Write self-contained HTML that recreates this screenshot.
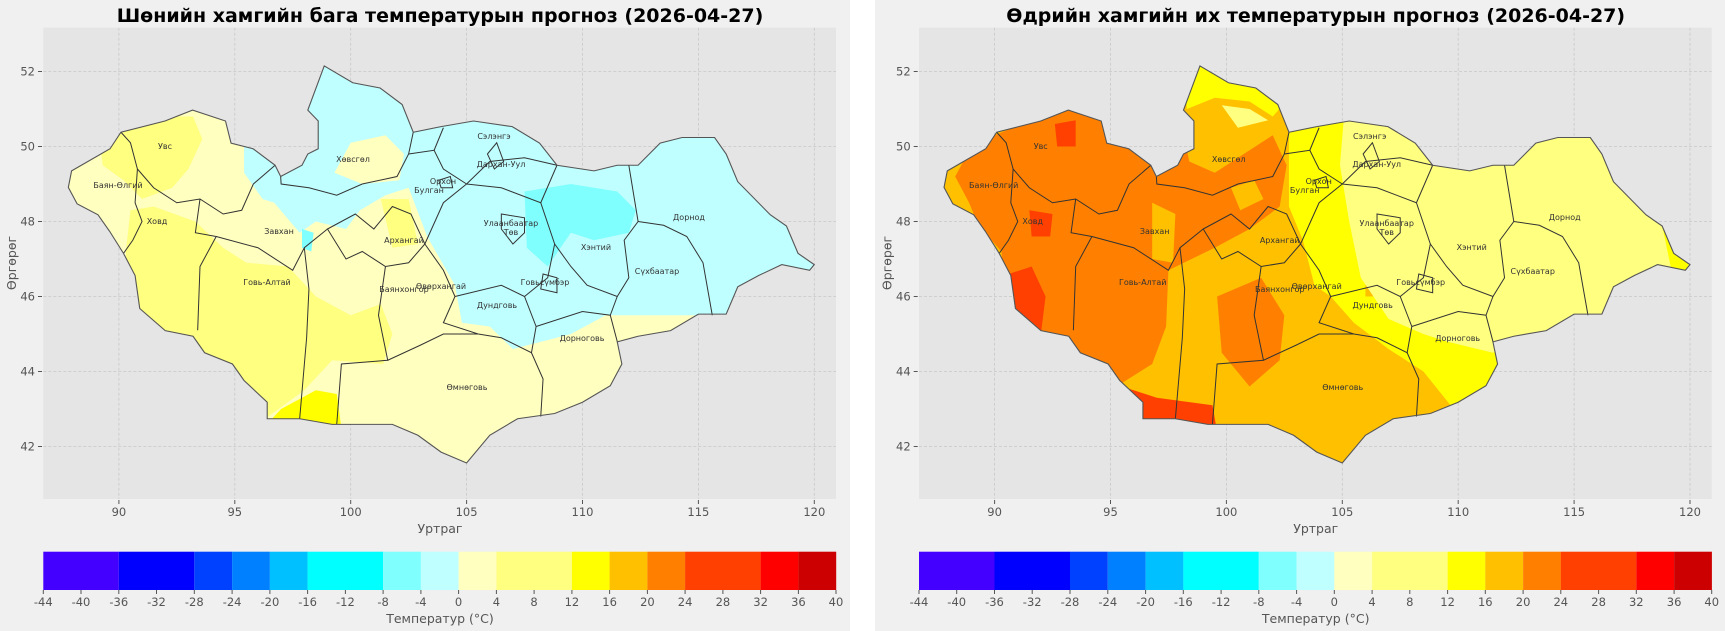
<!DOCTYPE html>
<html><head><meta charset="utf-8"><style>
html,body{margin:0;padding:0;background:#fff;}
svg{display:block;}
text{font-family:"DejaVu Sans","Liberation Sans",sans-serif;}
.tl{font-size:11.5px;fill:#555;}
.pl{font-size:8px;fill:#333;text-anchor:middle;}
.ttl{font-size:19px;font-weight:bold;fill:#000;text-anchor:middle;}
.al{font-size:12.5px;fill:#555;text-anchor:middle;}
.g{stroke:#c8c8c8;stroke-width:0.8;stroke-dasharray:3,2;}
.b{fill:none;stroke:#333;stroke-width:1;vector-effect:non-scaling-stroke;}
</style></head><body>
<svg width="1725" height="631" viewBox="0 0 1725 631" xmlns="http://www.w3.org/2000/svg">
<defs>
<polygon id="mn" vector-effect="non-scaling-stroke" points="87.82,48.91 87.96,49.35 89.62,49.94 90.09,50.38 91.99,50.68 93.18,50.97 94.6,50.68 94.84,50.09 95.79,49.94 96.74,49.5 96.98,49.2 97.9,49.5 98.15,49.8 98.6,49.94 98.6,50.68 98.15,50.97 98.86,52.15 100.09,51.7 101.27,51.56 102.22,51.12 102.7,50.38 103.9,50.53 105.3,50.68 106.97,50.53 108.15,50.09 108.9,49.5 110.5,49.35 111.5,49.5 112.4,49.5 113.35,50.09 114.3,50.24 115.7,50.24 116.2,49.8 116.7,49.06 118.1,48.18 118.8,47.88 119.3,47.15 120.0,46.85 119.8,46.7 118.6,46.85 117.6,46.56 116.7,46.26 116.2,45.53 115.0,45.53 113.8,45.09 112.4,44.94 111.5,44.79 111.7,44.2 111.2,43.62 110.0,43.18 108.8,42.88 107.2,42.74 106.0,42.3 105.0,41.56 103.9,41.85 102.9,42.3 101.8,42.59 99.2,42.59 97.8,42.74 96.4,42.74 96.4,43.18 95.4,43.76 94.9,44.2 93.7,44.5 93.2,44.94 92.0,45.09 90.9,45.68 90.7,46.56 90.2,47.15 89.6,47.74 89.1,48.18 88.2,48.47"/>
<clipPath id="cp" clipPathUnits="userSpaceOnUse"><use href="#mn"/></clipPath>
<g id="borders">
<polyline class="b" points="90.09,50.38 90.5,50.1 90.8,49.4 90.7,48.5 91.0,48.0 90.6,47.5 90.2,47.15"/>
<polyline class="b" points="90.8,49.4 91.5,48.9 92.5,48.5 93.5,48.6 94.5,48.2 95.3,48.3 95.8,49.0 96.74,49.5"/>
<polyline class="b" points="93.5,48.6 93.3,47.7 94.2,47.6 93.5,46.8 93.4,45.1"/>
<polyline class="b" points="94.2,47.6 96,47.3 97.5,46.7 98.0,47.3 99,47.8"/>
<polyline class="b" points="96.98,49.2 97,49.0 98.2,48.9 99.4,48.7 100.5,49.0 102,49.2 102.5,49.8 102.7,50.38"/>
<polygon class="b" points="99,47.8 100.2,48.2 101,47.8 101.8,48.4 102.6,48.2 103.2,47.4 102.5,46.9 101.5,46.8 100.5,47.2 99.8,47.0"/>
<polyline class="b" points="98.0,47.3 98.2,46.2 98.1,44.9 97.8,42.74"/>
<polyline class="b" points="101.5,46.8 101.2,45.5 101.6,44.3 99.6,44.2 99.4,42.6"/>
<polyline class="b" points="101.6,44.3 103,44.7 104,45 105.5,45.0"/>
<polyline class="b" points="103.2,47.4 104,46.7 104.5,46.0 104,45.3 105.5,45.0"/>
<polyline class="b" points="104.5,46.0 106.5,46.3 107.5,46.0 108.0,45.2 107.8,44.5 106.5,44.9 105.5,45.0"/>
<polyline class="b" points="107.8,44.5 108.3,43.8 108.2,42.8"/>
<polyline class="b" points="108,45.2 110,45.6 111.2,45.5 111.5,44.8"/>
<polyline class="b" points="103.2,47.4 104,48.5 105,49.0 106.5,48.9 108.2,48.5 108.8,47.4 108.5,46.5 107.5,46.0"/>
<polyline class="b" points="108.2,48.5 108.9,49.5"/>
<polyline class="b" points="108.8,47.4 109.5,46.8 110.2,46.3 111.5,46.0 112.0,46.5 111.8,47.5 112.4,48.0 112.0,49.5"/>
<polyline class="b" points="112.4,48.0 113.5,47.9 114.5,47.6 115.2,46.9 115.6,45.5"/>
<polyline class="b" points="111.5,46.0 111.2,45.5"/>
<polyline class="b" points="102.5,49.8 103.6,49.9 104,49.4 105,49.0"/>
<polyline class="b" points="103.6,49.9 104,50.5"/>
<polyline class="b" points="105,49.0 106,49.6 107.5,49.7 108.9,49.5"/>
<polygon class="b" points="103.8,49.1 104.3,49.2 104.4,48.9 103.9,48.9"/>
<polygon class="b" points="105.9,49.8 106.3,50.1 106.6,49.6 106.2,49.4"/>
<polygon class="b" points="106.5,48.2 107.5,48.1 107.5,47.7 107,47.4 106.5,47.8"/>
<polygon class="b" points="108.3,46.6 108.9,46.5 108.9,46.1 108.2,46.2"/>
<use href="#mn" fill="none" stroke="#555" stroke-width="1.1"/>
</g>
<g id="frame">
<rect x="43.3" y="27.7" width="792.7" height="471.3" fill="#e5e5e5"/>
<g class="g">
<line x1="118.9" y1="27.7" x2="118.9" y2="499"/><line x1="234.8" y1="27.7" x2="234.8" y2="499"/><line x1="350.7" y1="27.7" x2="350.7" y2="499"/><line x1="466.6" y1="27.7" x2="466.6" y2="499"/><line x1="582.5" y1="27.7" x2="582.5" y2="499"/><line x1="698.4" y1="27.7" x2="698.4" y2="499"/><line x1="814.3" y1="27.7" x2="814.3" y2="499"/>
<line x1="43.3" y1="446.5" x2="836" y2="446.5"/><line x1="43.3" y1="371.5" x2="836" y2="371.5"/><line x1="43.3" y1="296.5" x2="836" y2="296.5"/><line x1="43.3" y1="221.5" x2="836" y2="221.5"/><line x1="43.3" y1="146.5" x2="836" y2="146.5"/><line x1="43.3" y1="71.5" x2="836" y2="71.5"/>
</g>
</g>
<g id="axes">
<g stroke="#555" stroke-width="1">
<line x1="38" y1="446.5" x2="42" y2="446.5"/><line x1="38" y1="371.5" x2="42" y2="371.5"/><line x1="38" y1="296.5" x2="42" y2="296.5"/><line x1="38" y1="221.5" x2="42" y2="221.5"/><line x1="38" y1="146.5" x2="42" y2="146.5"/><line x1="38" y1="71.5" x2="42" y2="71.5"/>
<line x1="118.9" y1="500" x2="118.9" y2="504"/><line x1="234.8" y1="500" x2="234.8" y2="504"/><line x1="350.7" y1="500" x2="350.7" y2="504"/><line x1="466.6" y1="500" x2="466.6" y2="504"/><line x1="582.5" y1="500" x2="582.5" y2="504"/><line x1="698.4" y1="500" x2="698.4" y2="504"/><line x1="814.3" y1="500" x2="814.3" y2="504"/>
</g>
<g class="tl" text-anchor="end">
<text x="35" y="450.5">42</text><text x="35" y="375.5">44</text><text x="35" y="300.5">46</text><text x="35" y="225.5">48</text><text x="35" y="150.5">50</text><text x="35" y="75.5">52</text>
</g>
<g class="tl" text-anchor="middle">
<text x="118.9" y="516">90</text><text x="234.8" y="516">95</text><text x="350.7" y="516">100</text><text x="466.6" y="516">105</text><text x="582.5" y="516">110</text><text x="698.4" y="516">115</text><text x="814.3" y="516">120</text>
</g>
<text class="al" x="440" y="533">Уртраг</text>
<text class="al" transform="translate(16,263) rotate(-90)">Өргөрөг</text>
<g>
<rect x="43.3" y="551.7" width="75.5" height="38.3" fill="#4400ff"/>
<rect x="118.8" y="551.7" width="75.5" height="38.3" fill="#0000ff"/>
<rect x="194.3" y="551.7" width="37.8" height="38.3" fill="#0040ff"/>
<rect x="232.1" y="551.7" width="37.8" height="38.3" fill="#0080ff"/>
<rect x="269.9" y="551.7" width="37.8" height="38.3" fill="#00c0ff"/>
<rect x="307.6" y="551.7" width="75.5" height="38.3" fill="#00ffff"/>
<rect x="383.1" y="551.7" width="37.8" height="38.3" fill="#80ffff"/>
<rect x="420.9" y="551.7" width="37.8" height="38.3" fill="#c0ffff"/>
<rect x="458.6" y="551.7" width="37.8" height="38.3" fill="#ffffc0"/>
<rect x="496.4" y="551.7" width="75.5" height="38.3" fill="#ffff80"/>
<rect x="571.9" y="551.7" width="37.8" height="38.3" fill="#ffff00"/>
<rect x="609.6" y="551.7" width="37.8" height="38.3" fill="#ffc000"/>
<rect x="647.4" y="551.7" width="37.8" height="38.3" fill="#ff8000"/>
<rect x="685.1" y="551.7" width="75.5" height="38.3" fill="#ff4000"/>
<rect x="760.6" y="551.7" width="37.8" height="38.3" fill="#ff0000"/>
<rect x="798.4" y="551.7" width="37.8" height="38.3" fill="#cc0000"/>
</g>
<g stroke="#555"><line x1="43.3" y1="590" x2="43.3" y2="594"/><line x1="81" y1="590" x2="81" y2="594"/><line x1="118.8" y1="590" x2="118.8" y2="594"/><line x1="156.5" y1="590" x2="156.5" y2="594"/><line x1="194.3" y1="590" x2="194.3" y2="594"/><line x1="232.1" y1="590" x2="232.1" y2="594"/><line x1="269.9" y1="590" x2="269.9" y2="594"/><line x1="307.6" y1="590" x2="307.6" y2="594"/><line x1="345.4" y1="590" x2="345.4" y2="594"/><line x1="383.1" y1="590" x2="383.1" y2="594"/><line x1="420.9" y1="590" x2="420.9" y2="594"/><line x1="458.6" y1="590" x2="458.6" y2="594"/><line x1="496.4" y1="590" x2="496.4" y2="594"/><line x1="534.1" y1="590" x2="534.1" y2="594"/><line x1="571.9" y1="590" x2="571.9" y2="594"/><line x1="609.6" y1="590" x2="609.6" y2="594"/><line x1="647.4" y1="590" x2="647.4" y2="594"/><line x1="685.1" y1="590" x2="685.1" y2="594"/><line x1="722.9" y1="590" x2="722.9" y2="594"/><line x1="760.6" y1="590" x2="760.6" y2="594"/><line x1="798.4" y1="590" x2="798.4" y2="594"/><line x1="836" y1="590" x2="836" y2="594"/></g>
<g class="tl" text-anchor="middle">
<text x="43.3" y="606">-44</text><text x="81" y="606">-40</text><text x="118.8" y="606">-36</text><text x="156.5" y="606">-32</text><text x="194.3" y="606">-28</text><text x="232.1" y="606">-24</text><text x="269.9" y="606">-20</text><text x="307.6" y="606">-16</text><text x="345.4" y="606">-12</text><text x="383.1" y="606">-8</text><text x="420.9" y="606">-4</text><text x="458.6" y="606">0</text><text x="496.4" y="606">4</text><text x="534.1" y="606">8</text><text x="571.9" y="606">12</text><text x="609.6" y="606">16</text><text x="647.4" y="606">20</text><text x="685.1" y="606">24</text><text x="722.9" y="606">28</text><text x="760.6" y="606">32</text><text x="798.4" y="606">36</text><text x="836" y="606">40</text>
</g>
<text class="al" x="440" y="623">Температур (°C)</text>
</g>
<g id="labels" class="pl">
<text x="165" y="149">Увс</text><text x="118" y="188">Баян-Өлгий</text><text x="157" y="224">Ховд</text><text x="279" y="234">Завхан</text><text x="353" y="162">Хөвсгөл</text><text x="404" y="243">Архангай</text><text x="404" y="292">Баянхонгор</text><text x="441" y="289">Өвөрхангай</text><text x="267" y="285">Говь-Алтай</text><text x="494" y="139">Сэлэнгэ</text><text x="501" y="167">Дархан-Уул</text><text x="443" y="184">Орхон</text><text x="429" y="193">Булган</text><text x="511" y="226">Улаанбаатар</text><text x="511" y="235">Төв</text><text x="596" y="250">Хэнтий</text><text x="689" y="220">Дорнод</text><text x="657" y="274">Сүхбаатар</text><text x="545" y="285">Говьсүмбэр</text><text x="497" y="308">Дундговь</text><text x="582" y="341">Дорноговь</text><text x="467" y="390">Өмнөговь</text>
</g>
</defs>

<rect x="0" y="0" width="850" height="631" fill="#f0f0f0"/>
<rect x="875" y="0" width="850" height="631" fill="#f0f0f0"/>

<g>
<use href="#frame"/>
<g transform="translate(43.3,499) scale(23.18,-37.5) translate(-86.74,-40.6)">
<g clip-path="url(#cp)">
<rect x="86" y="40" width="36" height="14" fill="#ffffc0"/>
<polygon fill="#ffff80" points="89.5,50.3 91.5,50.8 93.2,50.8 93.6,50.2 93.0,49.4 92.3,48.9 91.0,48.6 90.2,49.1 89.3,49.5 89.2,50.0"/>
<polygon fill="#ffff80" points="90.5,48.3 91.5,48.4 93.3,48.0 94.5,47.3 95.5,46.9 97.3,46.8 98.5,46.0 100,45.5 101.3,45.8 101.8,45.0 101.4,44.2 99.2,44.3 98,43.5 96,42.6 93,44 90.5,45.5 90.3,47.2"/>
<polygon fill="#ffff00" points="96.4,42.6 99.6,42.5 99.4,43.4 98.5,43.5 97,43"/>
<polygon fill="#c0ffff" points="95.4,50 95.4,49.3 96.2,48.6 96.7,48.5 97.8,47.7 98.5,48.0 99.8,47.8 100.4,48.3 101.5,48.7 102.5,48.9 103.3,47.6 104.5,46.3 104.8,45.3 106,45.2 107,44.6 109.5,45.0 111,45.5 122,45.5 122,54 95.4,54"/>
<polygon fill="#ffffc0" points="99.3,49.3 100,50.1 101.5,50.3 102.3,49.8 102.1,49.1 100.5,49.0"/>
<polygon fill="#ffff80" points="101.3,48.6 102.5,48.6 102.9,47.4 101.8,47.3"/>
<polygon fill="#80ffff" points="107.5,48.8 109.5,49 111.5,48.8 112.3,48.3 112,47.7 110.5,47.5 109.5,47.7 108.5,46.8 107.6,47.3"/>
<polygon fill="#80ffff" points="97.9,47.8 98.4,47.7 98.3,47.2 97.9,47.3"/>
</g>
<use href="#borders"/>
</g>
<use href="#labels"/>
<use href="#axes"/>
<text class="ttl" x="440" y="22">Шөнийн хамгийн бага температурын прогноз (2026-04-27)</text>
</g>

<g transform="translate(875.7,0)">
<use href="#frame"/>
<g transform="translate(43.3,499) scale(23.18,-37.5) translate(-86.74,-40.6)">
<g clip-path="url(#cp)">
<rect x="86" y="40" width="36" height="14" fill="#ffc000"/>
<polygon fill="#ffff00" points="102.7,51 102.7,48.4 103.3,47.5 103.8,46.3 104.5,46.0 105.5,45.3 107,44.6 108.5,44.0 109.8,43.0 111.5,43.0 112.5,46 106,46 106,51"/>
<polygon fill="#ffff00" points="98.3,51 99.5,51.3 101,51.2 102,50.8 103,51.5 98,52.6"/>
<polygon fill="#ffff80" points="105.1,51 104.9,49.5 105.3,48 105.8,46.5 107,45.4 108.5,45.0 109.5,44.8 111.5,44.5 112,44.6 122,44.6 122,51"/>
<polygon fill="#ffff80" points="99.8,51.1 101,51.0 101.8,50.7 100.5,50.5"/>
<polygon fill="#ffff00" points="118.8,47.9 119.5,47.5 120.1,46.6 119.2,46.7"/>
<polygon fill="#ff8000" points="88.3,49.2 89,50.0 90,50.3 92,50.8 93.5,51 96,50.3 98.2,50.2 98.4,49.6 99.5,49.3 101,49.9 102,50.3 102.6,49.5 102.3,48.4 101,47.8 99.5,47.3 97.5,46.7 97.4,45.2 96.8,44.2 95,43.5 93.5,44.3 91.5,44.9 90.5,45.6 90.3,47.2 89.3,47.9 88.9,48.5"/>
<polygon fill="#ffc000" points="96.8,48.5 97.8,48.2 97.7,46.9 96.8,47.0"/>
<polygon fill="#ffc000" points="100.2,48.9 101.2,49.1 101.6,48.6 100.6,48.3"/>
<polygon fill="#ff8000" points="99.6,46 101.5,46.5 102.5,45.5 102.3,44.3 101,43.6 99.8,44.5"/>
<polygon fill="#ff4000" points="90.5,45.0 92,45.0 92.2,46.0 91.6,46.8 90.6,46.6"/>
<polygon fill="#ff4000" points="91.5,48.3 92.5,48.2 92.4,47.6 91.6,47.6"/>
<polygon fill="#ff4000" points="92.6,50.6 93.5,50.7 93.5,50.0 92.7,50.0"/>
<polygon fill="#ff4000" points="95,42.6 99.6,42.4 99.4,43.1 97,43.3 95.5,43.6"/>
</g>
<use href="#borders"/>
</g>
<use href="#labels"/>
<use href="#axes"/>
<text class="ttl" x="440" y="22">Өдрийн хамгийн их температурын прогноз (2026-04-27)</text>
</g>
</svg>
</body></html>
